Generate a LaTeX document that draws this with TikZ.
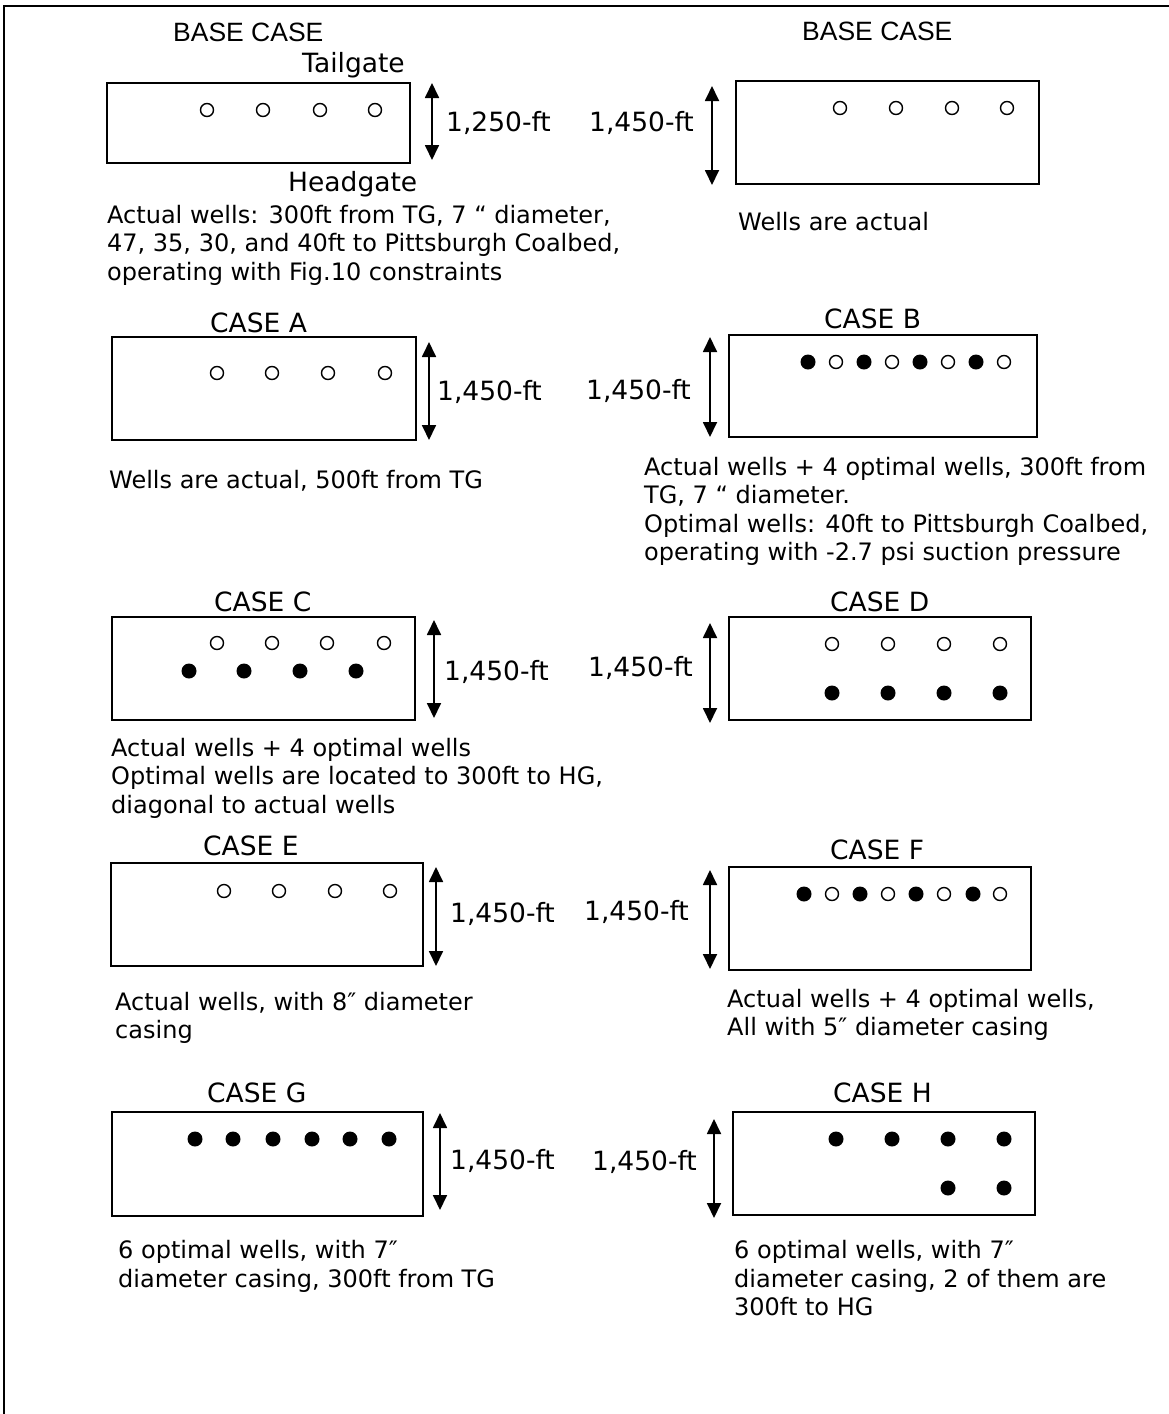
\documentclass[tikz,border=0pt]{standalone}
\usepackage{fontspec}
\setmainfont{DejaVu Sans}
\newfontfamily\arialfont{Liberation Sans}
\usetikzlibrary{arrows.meta}
\begin{document}
\begin{tikzpicture}[x=1pt,y=-1pt,
  panel/.style={draw,line width=1.8pt,inner sep=0pt,outer sep=0pt,anchor=north west},
  openwell/.style={circle,draw,line width=1.4pt,minimum size=13pt,inner sep=0pt},
  fullwell/.style={circle,fill=black,minimum size=15pt,inner sep=0pt},
  dimarrow/.style={line width=1.8pt,{Triangle[width=14pt,length=15pt]}-{Triangle[width=14pt,length=15pt]}},
  lbl/.style={font=\fontsize{26.5}{30}\selectfont,anchor=base west,inner sep=0pt},
  desc/.style={font=\fontsize{24}{28.5}\selectfont,anchor=base west,inner sep=0pt},
  ttl/.style={font=\arialfont\fontsize{26.5}{30}\selectfont,anchor=base west,inner sep=0pt}
]
\useasboundingbox (0,0) rectangle (1169,1414);
% outer frame (top and left sides)
\coordinate (frTR) at (1169,6);
\coordinate (frTL) at (4,6);
\coordinate (frBL) at (4,1414);
\draw[line width=2pt] (frTR) -- (frTL) -- (frBL);

% ---------------- BASE CASE (left) ----------------
\node[ttl] (tBaseL) at (173,41.5) {BASE CASE};
\node[lbl] (tTail) at (302,72) {Tailgate};
\node[panel,minimum width=303pt,minimum height=80pt] (pBaseL) at (107,83) {};
\foreach \x [count=\i] in {207,263,320,375} \node[openwell] (wBaseL\i) at (\x,110) {};
\coordinate (aBaseLt) at (432,83); \coordinate (aBaseLb) at (432,160);
\draw[dimarrow] (aBaseLt) -- (aBaseLb);
\node[lbl] (dBaseL) at (446,131) {1,250-ft};
\node[lbl] (tHead) at (288,191) {Headgate};
\node[desc] (xBaseL1) at (107,223) {Actual wells: 300ft from TG, 7 “ diameter,};
\node[desc] (xBaseL2) at (107,251.5) {47, 35, 30, and 40ft to Pittsburgh Coalbed,};
\node[desc] (xBaseL3) at (107,280) {operating with Fig.10 constraints};

% ---------------- BASE CASE (right) ----------------
\node[ttl] (tBaseR) at (802,40) {BASE CASE};
\node[panel,minimum width=303pt,minimum height=103pt] (pBaseR) at (736,81) {};
\foreach \x [count=\i] in {840,896,952,1007} \node[openwell] (wBaseR\i) at (\x,108) {};
\coordinate (aBaseRt) at (712,86); \coordinate (aBaseRb) at (712,185);
\draw[dimarrow] (aBaseRt) -- (aBaseRb);
\node[lbl] (dBaseR) at (589,131) {1,450-ft};
\node[desc] (xBaseR1) at (738,230) {Wells are actual};

% ---------------- CASE A ----------------
\node[lbl] (tA) at (210,332) {CASE A};
\node[panel,minimum width=304pt,minimum height=103pt] (pA) at (112,337) {};
\foreach \x [count=\i] in {217,272,328,385} \node[openwell] (wA\i) at (\x,373) {};
\coordinate (aAt) at (429,342); \coordinate (aAb) at (429,440);
\draw[dimarrow] (aAt) -- (aAb);
\node[lbl] (dA) at (437,400) {1,450-ft};
\node[desc] (xA1) at (109,488) {Wells are actual, 500ft from TG};

% ---------------- CASE B ----------------
\node[lbl] (tB) at (824,328) {CASE B};
\node[panel,minimum width=308pt,minimum height=102pt] (pB) at (729,335) {};
\foreach \x [count=\i] in {808,864,920,976} \node[fullwell] (wBf\i) at (\x,362) {};
\foreach \x [count=\i] in {836,892,948,1004} \node[openwell] (wBo\i) at (\x,362) {};
\coordinate (aBt) at (710,337); \coordinate (aBb) at (710,437);
\draw[dimarrow] (aBt) -- (aBb);
\node[lbl] (dB) at (586,399) {1,450-ft};
\node[desc] (xB1) at (644,475) {Actual wells + 4 optimal wells, 300ft from};
\node[desc] (xB2) at (644,503.5) {TG, 7 “ diameter.};
\node[desc] (xB3) at (644,532) {Optimal wells: 40ft to Pittsburgh Coalbed,};
\node[desc] (xB4) at (644,560.5) {operating with -2.7 psi suction pressure};

% ---------------- CASE C ----------------
\node[lbl] (tC) at (214,611) {CASE C};
\node[panel,minimum width=303pt,minimum height=103pt] (pC) at (112,617) {};
\foreach \x [count=\i] in {217,272,327,384} \node[openwell] (wCo\i) at (\x,643) {};
\foreach \x [count=\i] in {189,244,300,356} \node[fullwell] (wCf\i) at (\x,671) {};
\coordinate (aCt) at (434,620); \coordinate (aCb) at (434,718);
\draw[dimarrow] (aCt) -- (aCb);
\node[lbl] (dC) at (444,680) {1,450-ft};
\node[desc] (xC1) at (111,756) {Actual wells + 4 optimal wells};
\node[desc] (xC2) at (111,784.5) {Optimal wells are located to 300ft to HG,};
\node[desc] (xC3) at (111,813) {diagonal to actual wells};

% ---------------- CASE D ----------------
\node[lbl] (tD) at (830,611) {CASE D};
\node[panel,minimum width=302pt,minimum height=103pt] (pD) at (729,617) {};
\foreach \x [count=\i] in {832,888,944,1000} \node[openwell] (wDo\i) at (\x,644) {};
\foreach \x [count=\i] in {832,888,944,1000} \node[fullwell] (wDf\i) at (\x,693) {};
\coordinate (aDt) at (710,623); \coordinate (aDb) at (710,723);
\draw[dimarrow] (aDt) -- (aDb);
\node[lbl] (dD) at (588,676) {1,450-ft};

% ---------------- CASE E ----------------
\node[lbl] (tE) at (203,855) {CASE E};
\node[panel,minimum width=312pt,minimum height=103pt] (pE) at (111,863) {};
\foreach \x [count=\i] in {224,279,335,390} \node[openwell] (wE\i) at (\x,891) {};
\coordinate (aEt) at (436,867); \coordinate (aEb) at (436,966);
\draw[dimarrow] (aEt) -- (aEb);
\node[lbl] (dE) at (450,922) {1,450-ft};
\node[desc] (xE1) at (115,1010) {Actual wells, with 8″ diameter};
\node[desc] (xE2) at (115,1038.5) {casing};

% ---------------- CASE F ----------------
\node[lbl] (tF) at (830,859) {CASE F};
\node[panel,minimum width=302pt,minimum height=103pt] (pF) at (729,867) {};
\foreach \x [count=\i] in {804,860,916,973} \node[fullwell] (wFf\i) at (\x,894) {};
\foreach \x [count=\i] in {832,888,944,1000} \node[openwell] (wFo\i) at (\x,894) {};
\coordinate (aFt) at (710,870); \coordinate (aFb) at (710,969);
\draw[dimarrow] (aFt) -- (aFb);
\node[lbl] (dF) at (584,920) {1,450-ft};
\node[desc] (xF1) at (727,1007) {Actual wells + 4 optimal wells,};
\node[desc] (xF2) at (727,1035.5) {All with 5″ diameter casing};

% ---------------- CASE G ----------------
\node[lbl] (tG) at (207,1102) {CASE G};
\node[panel,minimum width=311pt,minimum height=104pt] (pG) at (112,1112) {};
\foreach \x [count=\i] in {195,233,273,312,350,389} \node[fullwell] (wG\i) at (\x,1139) {};
\coordinate (aGt) at (440,1113); \coordinate (aGb) at (440,1210);
\draw[dimarrow] (aGt) -- (aGb);
\node[lbl] (dG) at (450,1169) {1,450-ft};
\node[desc] (xG1) at (118,1258) {6 optimal wells, with 7″};
\node[desc] (xG2) at (118,1287) {diameter casing, 300ft from TG};

% ---------------- CASE H ----------------
\node[lbl] (tH) at (833,1102) {CASE H};
\node[panel,minimum width=302pt,minimum height=103pt] (pH) at (733,1112) {};
\foreach \x [count=\i] in {836,892,948,1004} \node[fullwell] (wHt\i) at (\x,1139) {};
\foreach \x [count=\i] in {948,1004} \node[fullwell] (wHb\i) at (\x,1188) {};
\coordinate (aHt) at (714,1119); \coordinate (aHb) at (714,1218);
\draw[dimarrow] (aHt) -- (aHb);
\node[lbl] (dH) at (592,1170) {1,450-ft};
\node[desc] (xH1) at (734,1258) {6 optimal wells, with 7″};
\node[desc] (xH2) at (734,1287) {diameter casing, 2 of them are};
\node[desc] (xH3) at (734,1315) {300ft to HG};
\end{tikzpicture}
\end{document}
